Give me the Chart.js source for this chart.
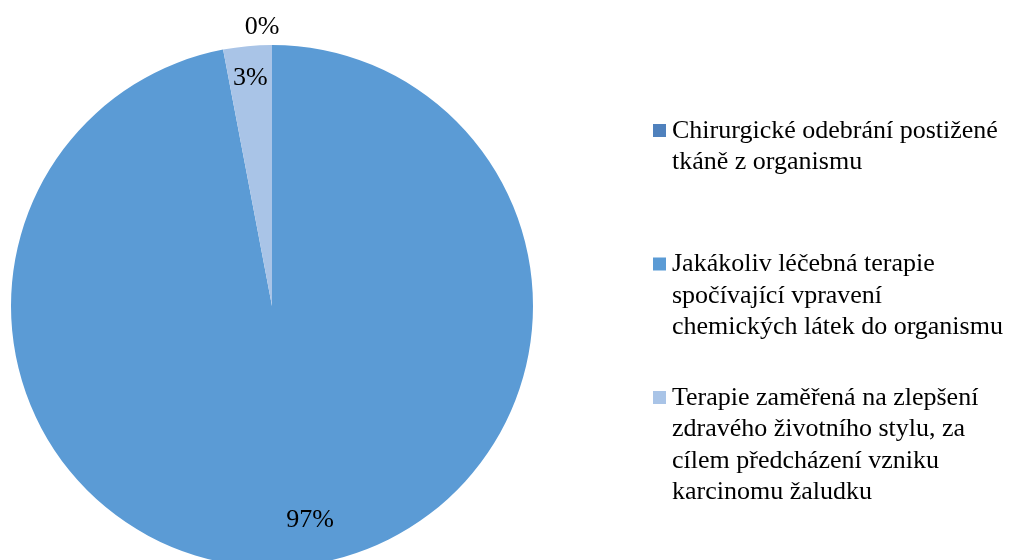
<!DOCTYPE html>
<html>
<head>
<meta charset="utf-8">
<script src="https://cdn.jsdelivr.net/npm/chart.js@4/dist/chart.umd.min.js"></script>
<style>
html,body{margin:0;padding:0;background:#fff;overflow:hidden;}
#wrap{position:absolute;left:0;top:0;width:1013px;height:620px;}
</style>
</head>
<body>
<div id="wrap"><canvas id="c" width="1013" height="620"></canvas></div>
<script>
const categories = [
  ["Chirurgické odebrání postižené", "tkáně z organismu"],
  ["Jakákoliv léčebná terapie", "spočívající vpravení", "chemických látek do organismu"],
  ["Terapie zaměřená na zlepšení", "zdravého životního stylu, za", "cílem předcházení vzniku", "karcinomu žaludku"]
];
const values = [0, 97, 3];
const valueLabels = ["0%", "97%", "3%"];
const colors = ["#4F81BD", "#5B9BD5", "#A9C4E7"];

const FONT = '26px "Liberation Serif", "Times New Roman", serif';

const labelPlugin = {
  id: 'sliceLabels',
  afterDatasetsDraw(chart) {
    const ctx = chart.ctx;
    const meta = chart.getDatasetMeta(0);
    ctx.save();
    ctx.font = FONT;
    ctx.fillStyle = '#000';
    ctx.textAlign = 'center';
    ctx.textBaseline = 'middle';
    meta.data.forEach((arc, i) => {
      const p = arc.getProps(['x','y','startAngle','endAngle','outerRadius'], true);
      const mid = (p.startAngle + p.endAngle) / 2;
      let r, dx = 0;
      if (values[i] === 0) { r = p.outerRadius + 19; dx = -10; }
      else if (values[i] > 50) { r = p.outerRadius * 0.82; dx = 18; }
      else { r = p.outerRadius * 0.88; }
      const x = p.x + Math.cos(mid) * r + dx;
      const y = p.y + Math.sin(mid) * r;
      ctx.fillText(valueLabels[i], x, y + 1);
    });
    ctx.restore();
  }
};

const legendPlugin = {
  id: 'sideLegend',
  afterDraw(chart) {
    const ctx = chart.ctx;
    ctx.save();
    ctx.font = FONT;
    ctx.textAlign = 'left';
    ctx.textBaseline = 'middle';
    const lineH = 31.5, step = 133.5;
    chart.data.labels.forEach((lines, i) => {
      const y = 131 + i * step;
      ctx.fillStyle = chart.data.datasets[0].backgroundColor[i];
      ctx.fillRect(653, y - 7, 13, 13);
      ctx.fillStyle = '#000';
      lines.forEach((ln, j) => ctx.fillText(ln, 672, y + j * lineH));
    });
    ctx.restore();
  }
};

new Chart(document.getElementById('c'), {
  type: 'pie',
  data: {
    labels: categories,
    datasets: [{ data: values, backgroundColor: colors, borderWidth: 0 }]
  },
  options: {
    responsive: false,
    animation: false,
    layout: { padding: { left: 11, top: 45, right: 480, bottom: 53 } },
    plugins: { legend: { display: false }, tooltip: { enabled: false } }
  },
  plugins: [labelPlugin, legendPlugin]
});
</script>
</body>
</html>
